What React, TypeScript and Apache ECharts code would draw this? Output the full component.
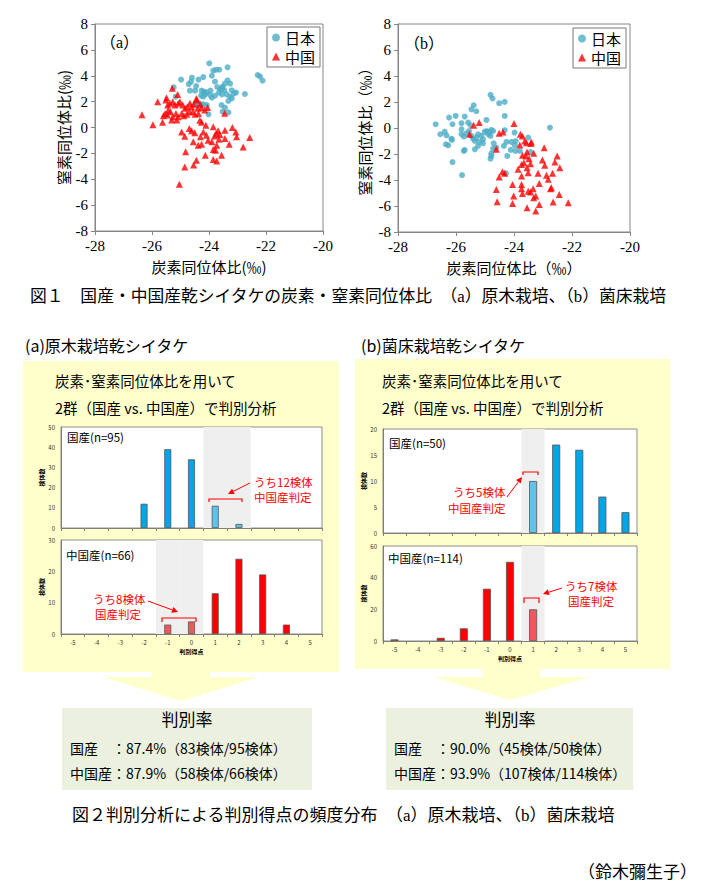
import React, { useEffect, useRef } from "react";
import * as echarts from "echarts";

// ---------- Fig.1 scatter data (carbon δ13C, nitrogen δ15N) ----------
const japanA: number[][] = [
  [-23.99, 4.96], [-23.35, 4.65], [-23.85, 4.39], [-23.75, 4.47], [-23.64, 4.47], [-23.9, 4.0],
  [-22.29, 4.06], [-22.21, 3.93], [-22.12, 3.62], [-24.98, 3.7], [-24.6, 3.85], [-24.37, 3.7],
  [-24.2, 3.9], [-24.63, 3.54], [-24.71, 3.36], [-23.79, 3.54], [-23.71, 3.13], [-23.35, 3.64],
  [-23.26, 3.39], [-23.44, 3.39], [-23.52, 3.16], [-25.24, 3.1], [-24.67, 2.85], [-24.49, 2.85],
  [-24.26, 2.85], [-24.18, 2.77], [-24.08, 2.72], [-23.61, 2.95], [-23.54, 3.03], [-23.46, 2.87],
  [-23.2, 2.87], [-23.12, 2.64], [-23.05, 2.7], [-22.74, 2.59], [-24.14, 2.56], [-23.96, 2.51],
  [-24.28, 2.46], [-24.2, 2.38], [-23.79, 2.46], [-23.38, 2.56], [-23.26, 2.38], [-23.2, 2.25],
  [-25.17, 2.38], [-23.32, 2.05], [-24.49, 1.79], [-24.37, 1.79], [-24.29, 1.79], [-24.2, 1.79],
  [-24.08, 1.74], [-23.56, 1.74], [-23.44, 1.53], [-23.52, 1.22], [-23.32, 1.17], [-24.02, 1.02],
  [-23.55, 2.55], [-23.95, 2.85], [-24.45, 3.2], [-23.65, 2.7], [-23.9, 2.3],
];
const chinaA: number[][] = [
  [-25.29, 3.03], [-25.1, 2.56], [-25.49, 2.3], [-25.51, 2.13], [-25.8, 2.0], [-26.35, 0.98],
  [-25.97, 0.22], [-25.63, 0.4], [-25.45, 1.74], [-25.37, 1.87], [-25.27, 2.0], [-25.19, 1.74],
  [-25.08, 1.87], [-25.02, 2.0], [-24.92, 1.74], [-24.84, 1.48], [-24.76, 1.61], [-24.67, 1.87],
  [-24.61, 1.61], [-24.53, 1.79], [-24.43, 2.12], [-24.4, 1.48], [-24.31, 1.79], [-24.26, 1.53],
  [-25.54, 1.09], [-25.46, 0.96], [-25.35, 1.22], [-25.27, 0.84], [-25.16, 1.09], [-25.08, 0.84],
  [-24.96, 1.09], [-24.88, 0.91], [-24.78, 1.02], [-24.69, 1.22], [-24.57, 1.22], [-24.49, 1.02],
  [-24.37, 1.09], [-25.31, 0.58], [-25.13, 0.58], [-25.6, 0.91], [-25.43, 1.35], [-24.44, 2.25],
  [-24.05, 1.55], [-24.15, 1.35], [-23.45, 1.1], [-24.32, 0.57], [-24.26, 0.4], [-24.11, 0.18],
  [-24.96, -0.34], [-24.85, -0.67], [-24.69, -0.08], [-24.61, -0.26], [-24.5, -0.41], [-24.3, -0.72],
  [-24.2, -0.34], [-24.09, -0.59], [-23.85, 0.05], [-23.75, -0.45], [-23.68, -0.25], [-23.62, -0.55],
  [-23.8, -0.65], [-23.44, -0.21], [-23.18, 0.0], [-23.06, -0.34], [-23.03, -0.72], [-22.57, -0.77],
  [-24.55, -1.11], [-24.38, -1.37], [-24.26, -1.29], [-24.03, -0.98], [-23.85, -1.7], [-23.77, -1.75],
  [-23.73, -1.37], [-23.44, -0.85], [-23.29, -1.29], [-22.8, -1.5], [-24.82, -1.88], [-24.13, -2.14],
  [-23.85, -2.48], [-23.73, -2.58], [-23.56, -2.14], [-24.44, -2.53], [-24.54, -2.89], [-24.85, -3.05],
  [-25.04, -4.39], [-23.65, -0.9], [-23.9, -1.1],
];
const japanB: number[][] = [
  [-24.81, 2.55], [-24.74, 2.27], [-24.32, 2.01], [-24.51, 1.91], [-25.39, 1.75], [-25.47, 1.44],
  [-25.3, 1.29], [-26.24, 0.8], [-26.01, 0.93], [-25.7, 0.88], [-24.32, 0.93], [-26.7, 0.29],
  [-26.12, 0.29], [-25.81, 0.37], [-25.58, 0.42], [-25.5, 0.21], [-24.95, 0.62], [-26.54, -0.48],
  [-26.39, -0.28], [-26.33, -0.56], [-26.16, -0.82], [-26.14, -0.92], [-26.27, -1.33], [-26.35, -1.25],
  [-26.12, -2.62], [-25.79, -3.62], [-25.81, -0.1], [-25.81, -0.48], [-25.73, -0.66], [-25.64, -0.41],
  [-25.55, -0.23], [-25.47, -0.61], [-25.41, -0.82], [-25.35, -1.0], [-25.3, -0.74], [-25.24, -0.48],
  [-25.2, -1.07], [-25.12, -0.61], [-25.07, -0.87], [-25.01, -0.3], [-24.95, -0.23], [-24.89, -0.48],
  [-24.86, -0.3], [-24.78, -0.15], [-24.72, -0.23], [-24.81, -0.61], [-25.24, -1.38], [-25.07, -1.18],
  [-25.35, -1.64], [-25.73, -1.77], [-25.7, -1.69], [-24.78, -1.95], [-24.81, -2.36], [-24.78, -2.15],
  [-24.72, -1.59], [-24.7, -1.18], [-24.61, -1.51], [-24.26, -1.07], [-24.35, -1.38], [-24.09, -1.07],
  [-23.94, -1.0], [-23.97, -1.33], [-24.11, -1.69], [-23.95, -1.77], [-23.8, -1.77], [-24.23, -2.15],
  [-24.28, -3.49], [-23.51, -0.74], [-23.43, -1.85], [-22.76, 0.03], [-24.32, -0.17], [-23.98, -0.35],
];
const chinaB: number[][] = [
  [-25.53, -0.48], [-25.39, 0.21], [-25.2, 0.42], [-24.61, -1.64], [-24.51, -0.41], [-24.38, -0.3],
  [-24.51, -3.77], [-24.4, -3.36], [-24.32, -3.49], [-24.61, -4.73], [-24.58, -5.68], [-24.0, 0.34],
  [-23.78, -0.48], [-23.71, -0.61], [-23.63, -1.0], [-23.57, -1.13], [-23.4, -1.07], [-23.42, -1.2],
  [-23.8, -1.31], [-23.71, -2.1], [-23.59, -2.15], [-23.55, -1.85], [-23.48, -2.36], [-23.32, -1.95],
  [-23.74, -2.8], [-23.66, -2.67], [-23.43, -2.75], [-23.86, -3.18], [-23.55, -3.05], [-23.51, -3.44],
  [-23.74, -3.7], [-23.17, -3.49], [-22.96, -1.51], [-23.02, -2.46], [-22.94, -2.87], [-22.88, -3.64],
  [-22.82, -3.95], [-22.51, -2.15], [-22.59, -2.62], [-22.42, -3.05], [-22.67, -3.49], [-24.05, -4.34],
  [-23.74, -4.34], [-23.74, -4.67], [-23.71, -5.03], [-24.01, -5.24], [-24.05, -5.8], [-23.51, -4.86],
  [-23.43, -4.93], [-23.34, -4.67], [-23.13, -4.26], [-23.32, -5.37], [-23.25, -5.24], [-23.55, -6.14],
  [-23.13, -5.88], [-23.25, -6.39], [-22.71, -4.6], [-22.74, -4.67], [-22.65, -5.7], [-22.44, -5.11],
  [-22.13, -5.75],
];

// ---------- Fig.2 discriminant score histograms ----------
const scoreCats = ["-5", "-4", "-3", "-2", "-1", "0", "1", "2", "3", "4", "5"];
const aDomestic = [0, 0, 0, 12, 39, 34, 11, 2, 0, 0, 0];
const aChina = [0, 0, 0, 0, 3, 4, 13, 24, 19, 3, 0];
const bDomestic = [0, 0, 0, 0, 0, 0, 10, 17, 16, 7, 4];
const bChina = [1, 0, 2, 8, 33, 50, 20, 0, 0, 0, 0];
const aDomesticMisjudged = ["1", "2"];
const aChinaMisjudged = ["-1", "0"];
const bDomesticMisjudged = ["1"];
const bChinaMisjudged = ["1"];
const yMaxes = [50, 30, 20, 60];
const yIntervals = [10, 10, 5, 20];

const SANS = '"Noto Sans CJK JP", "Noto Sans", sans-serif';
const SERIF = '"Liberation Serif", "DejaVu Serif", "Noto Sans CJK JP", serif';
const BLUE = "#4BACC6";
const RED = "#FF0000";

function arrow(x1: number, y1: number, x2: number, y2: number) {
  const a = Math.atan2(y2 - y1, x2 - x1);
  const L = 6, W = 3;
  const bx = x2 - L * Math.cos(a), by = y2 - L * Math.sin(a);
  return [
    { type: "line", z: 100, shape: { x1, y1, x2: bx, y2: by }, style: { stroke: RED, lineWidth: 1 } },
    {
      type: "polygon", z: 100,
      shape: { points: [[x2, y2], [bx + W * Math.sin(a), by - W * Math.cos(a)], [bx - W * Math.sin(a), by + W * Math.cos(a)]] },
      style: { fill: RED },
    },
  ];
}
function bracket(x1: number, x2: number, y: number, h: number) {
  return {
    type: "polyline", z: 100,
    shape: { points: [[x1, y + h], [x1, y], [x2, y], [x2, y + h]] },
    style: { stroke: RED, lineWidth: 1.2, fill: null },
  };
}
function txt(text: string, x: number, y: number, size: number, opts: any = {}) {
  return {
    type: "text", z: 100, x, y,
    style: {
      text, fontSize: size, fontFamily: opts.family || SANS, fill: opts.fill || "#000",
      fontWeight: opts.weight || "normal", align: opts.align || "left", verticalAlign: "middle",
      lineHeight: opts.lineHeight || Math.round(size * 1.15),
    },
  };
}

export default function App() {
  const ref = useRef<HTMLDivElement>(null);
  useEffect(() => {
    const chart = echarts.init(ref.current!, null, { renderer: "svg" });

    const scatterGrids = [
      { left: 95, top: 24, width: 228, height: 207 },
      { left: 398, top: 24, width: 232, height: 208 },
    ];
    const barGrids = [
      { left: 61, top: 427, width: 261, height: 101 },
      { left: 61, top: 540, width: 261, height: 94 },
      { left: 383, top: 429, width: 254, height: 104 },
      { left: 383, top: 546, width: 254, height: 95 },
    ];
    const grids: any[] = [
      ...scatterGrids.map((g) => ({ ...g, show: true, borderColor: "#868686", borderWidth: 1 })),
      ...barGrids.map((g) => ({ ...g, show: true, backgroundColor: "#fff", borderColor: "#8c8c8c", borderWidth: 1 })),
    ];

    const axisGray = { lineStyle: { color: "#868686" } };
    const scatterX = (gi: number, name: string) => ({
      type: "value", gridIndex: gi, min: -28, max: -20, interval: 2,
      axisLine: { show: true, onZero: false, ...axisGray },
      axisTick: { show: true, length: 4, ...axisGray },
      splitLine: { show: false },
      axisLabel: { fontFamily: SERIF, fontSize: 15, color: "#000", margin: 7 },
      name, nameLocation: "middle", nameGap: 28,
      nameTextStyle: { fontFamily: SANS, fontSize: 15, color: "#000" },
    });
    const scatterY = (gi: number, name: string, gap: number) => ({
      type: "value", gridIndex: gi, min: -8, max: 8, interval: 2,
      axisLine: { show: true, onZero: false, ...axisGray },
      axisTick: { show: true, length: 4, ...axisGray },
      splitLine: { show: false },
      axisLabel: { fontFamily: SERIF, fontSize: 15, color: "#000", margin: 7 },
      name, nameLocation: "middle", nameGap: gap, nameRotate: 90,
      nameTextStyle: { fontFamily: SANS, fontSize: 15, color: "#000" },
    });

    const xAxes: any[] = [scatterX(0, "炭素同位体比(‰)"), scatterX(1, "炭素同位体比（‰）")];
    const yAxes: any[] = [scatterY(0, "窒素同位体比(‰)", 24), scatterY(1, "窒素同位体比（‰）", 26)];

    const panels = [
      { vals: aDomestic, hl: aDomesticMisjudged, dark: "#00A6E6", light: "#5CC3EC", bottom: false, bw: 7 },
      { vals: aChina, hl: aChinaMisjudged, dark: RED, light: "#F2575A", bottom: true, bw: 7 },
      { vals: bDomestic, hl: bDomesticMisjudged, dark: "#00A6E6", light: "#5CC3EC", bottom: false, bw: 8 },
      { vals: bChina, hl: bChinaMisjudged, dark: RED, light: "#F2575A", bottom: true, bw: 8 },
    ];

    const series: any[] = [
      { type: "scatter", name: "日本", xAxisIndex: 0, yAxisIndex: 0, data: japanA, symbol: "circle", symbolSize: 6, itemStyle: { color: BLUE } },
      { type: "scatter", name: "中国", xAxisIndex: 0, yAxisIndex: 0, data: chinaA, symbol: "triangle", symbolSize: 7, itemStyle: { color: RED } },
      { type: "scatter", name: "日本", xAxisIndex: 1, yAxisIndex: 1, data: japanB, symbol: "circle", symbolSize: 6, itemStyle: { color: BLUE } },
      { type: "scatter", name: "中国", xAxisIndex: 1, yAxisIndex: 1, data: chinaB, symbol: "triangle", symbolSize: 7, itemStyle: { color: RED } },
    ];

    panels.forEach((p, k) => {
      const gi = 2 + k;
      const mainX = xAxes.length;
      xAxes.push({
        type: "category", gridIndex: gi, data: scoreCats,
        axisLine: { show: true, lineStyle: { color: "#7f7f7f" } },
        axisTick: { show: true, length: 3, interval: 0, lineStyle: { color: "#7f7f7f" } },
        axisLabel: { show: p.bottom, fontSize: 6, color: "#333", margin: 5, interval: 0 },
        name: p.bottom ? "判別得点" : "", nameLocation: "middle", nameGap: 14,
        nameTextStyle: { fontSize: 6, fontWeight: "bold", color: "#000" },
      });
      const shadeX = xAxes.length;
      xAxes.push({ type: "category", gridIndex: gi, data: scoreCats, show: false });
      yAxes.push({
        type: "value", gridIndex: gi, min: 0, max: yMaxes[k], interval: yIntervals[k],
        axisLine: { show: true, lineStyle: { color: "#7f7f7f" } },
        axisTick: { show: false },
        splitLine: { show: false },
        axisLabel: { fontSize: 6, color: "#333", margin: 6 },
        name: "検体数", nameLocation: "middle", nameGap: 17, nameRotate: 90,
        nameTextStyle: { fontSize: 6, fontWeight: "bold", color: "#000" },
      });
      series.push({
        type: "bar", xAxisIndex: shadeX, yAxisIndex: gi, barWidth: "100%", silent: true, z: 1,
        data: scoreCats.map((c) => (p.hl.includes(c) ? yMaxes[k] : "-")),
        itemStyle: { color: "#EFEFEF" },
      });
      series.push({
        type: "bar", xAxisIndex: mainX, yAxisIndex: gi, barWidth: p.bw, z: 3,
        data: p.vals.map((v, i) =>
          v === 0 ? "-" : { value: v, itemStyle: { color: p.hl.includes(scoreCats[i]) ? p.light : p.dark } }
        ),
        itemStyle: { borderColor: "#555", borderWidth: 0.8 },
      });
    });

    const legendBase = {
      orient: "vertical", backgroundColor: "#fff", borderColor: "#777", borderWidth: 1,
      padding: [3, 5, 3, 5], itemGap: 4, itemWidth: 8, itemHeight: 8,
      textStyle: { fontSize: 15, fontFamily: SANS, color: "#000" },
      data: [{ name: "日本", icon: "circle" }, { name: "中国", icon: "triangle" }],
    };

    const graphic: any[] = [
      // yellow panels with arrows
      { type: "rect", z: -10, shape: { x: 23, y: 361, width: 316, height: 311 }, style: { fill: "#FFFFCC" } },
      { type: "rect", z: -10, shape: { x: 355, y: 359, width: 315, height: 310 }, style: { fill: "#FFFFCC" } },
      { type: "polygon", z: -10, shape: { points: [[152, 671], [210, 671], [210, 677], [259, 677], [181, 701], [103, 677], [152, 677]] }, style: { fill: "#FFFFCC" } },
      { type: "polygon", z: -10, shape: { points: [[483, 668], [540, 668], [540, 677], [590, 677], [510, 700], [433, 677], [483, 677]] }, style: { fill: "#FFFFCC" } },
      { type: "rect", z: -10, shape: { x: 62, y: 708, width: 250, height: 82 }, style: { fill: "#EBF1DE" } },
      { type: "rect", z: -10, shape: { x: 386, y: 708, width: 247, height: 82 }, style: { fill: "#EBF1DE" } },

      // Fig.1 texts
      txt("（a）", 100, 42, 16, { family: SERIF }),
      txt("（b）", 404, 43, 16, { family: SERIF }),
      txt("図１　国産・中国産乾シイタケの炭素・窒素同位体比　（a）原木栽培、（b）菌床栽培", 30, 296, 16.8, { family: SERIF }),

      // Fig.2 headings
      txt("(a)原木栽培乾シイタケ", 25, 345, 16),
      txt("(b)菌床栽培乾シイタケ", 361, 345, 16),
      txt("炭素･窒素同位体比を用いて", 55, 380, 14.5),
      txt("2群（国産 vs. 中国産）で判別分析", 55, 407, 14.5),
      txt("炭素･窒素同位体比を用いて", 382, 380, 14.5),
      txt("2群（国産 vs. 中国産）で判別分析", 382, 407, 14.5),

      // panel labels
      txt("国産(n=95)", 67, 437, 11.5),
      txt("中国産(n=66)", 66, 555, 11.5),
      txt("国産(n=50)", 389, 443, 11.5),
      txt("中国産(n=114)", 388, 558, 11.5),

      // annotations
      txt("うち12検体", 254, 482, 11.5, { fill: RED, lineHeight: 12 }),
      txt("中国産判定", 254, 497, 11.5, { fill: RED, lineHeight: 12 }),
      bracket(209, 242, 499, 3),
      ...arrow(250, 483, 228, 494),

      txt("うち8検体", 93, 599, 11.5, { fill: RED, lineHeight: 12 }),
      txt("国産判定", 95, 614, 11.5, { fill: RED, lineHeight: 12 }),
      bracket(162, 196, 618, 4),
      ...arrow(148, 601, 178, 612),

      txt("うち5検体", 453, 492, 11.5, { fill: RED, lineHeight: 12 }),
      txt("中国産判定", 448, 508, 11.5, { fill: RED, lineHeight: 12 }),
      bracket(523, 538, 472, 3),
      ...arrow(507, 497, 522, 477),

      txt("うち7検体", 565, 586, 11.5, { fill: RED, lineHeight: 12 }),
      txt("国産判定", 568, 601, 11.5, { fill: RED, lineHeight: 12 }),
      bracket(524, 539, 598, 5),
      ...arrow(562, 588, 543, 594),

      // discrimination rate boxes
      txt("判別率", 187, 718, 17, { align: "center" }),
      txt("国産　：87.4%（83検体/95検体）", 70, 748, 14),
      txt("中国産：87.9%（58検体/66検体）", 70, 773, 14),
      txt("判別率", 510, 718, 17, { align: "center" }),
      txt("国産　：90.0%（45検体/50検体）", 394, 748, 14),
      txt("中国産：93.9%（107検体/114検体）", 394, 773, 14),

      txt("図２判別分析による判別得点の頻度分布　（a）原木栽培、（b）菌床栽培", 72, 815, 17, { family: SERIF }),
      txt("（鈴木彌生子）", 697, 872, 17, { family: SERIF, align: "right" }),
    ];

    chart.setOption({
      animation: false,
      backgroundColor: "#fff",
      textStyle: { fontFamily: SANS },
      grid: grids,
      xAxis: xAxes,
      yAxis: yAxes,
      legend: [
        { ...legendBase, left: 267, top: 27 },
        { ...legendBase, left: 573, top: 28 },
      ],
      series,
      graphic,
    });
    return () => chart.dispose();
  }, []);

  return <div ref={ref} style={{ position: "absolute", left: 0, top: 0, width: 705, height: 890 }} />;
}
